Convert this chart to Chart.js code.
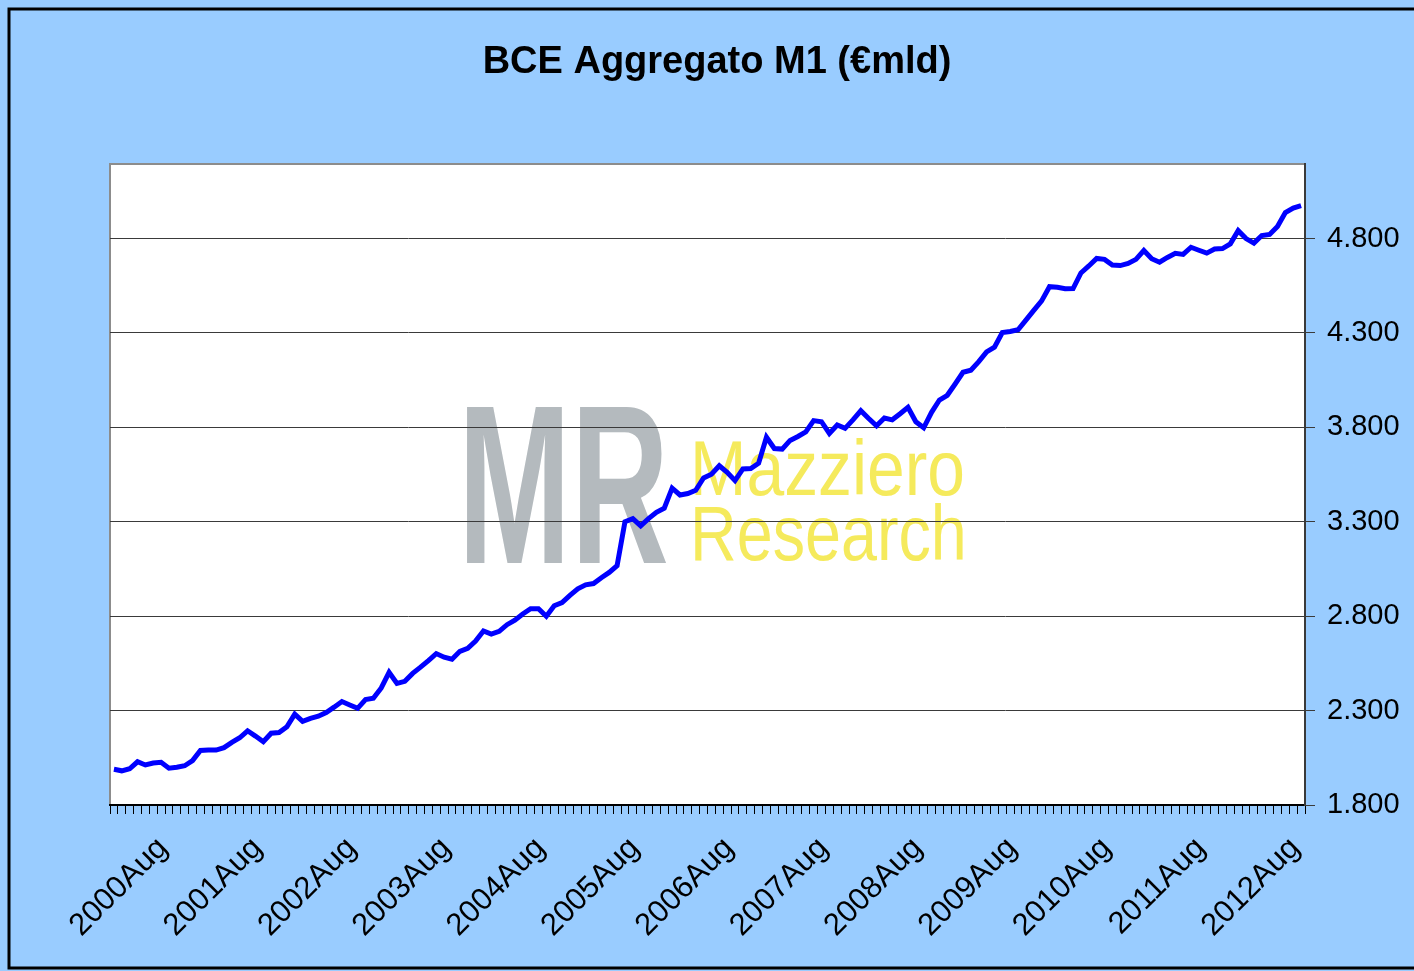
<!DOCTYPE html>
<html lang="it">
<head>
  <meta charset="UTF-8" />
  <title>BCE Aggregato M1 (€mld)</title>
  <script src="https://cdn.jsdelivr.net/npm/chart.js"></script>
  <style>
    html, body { margin: 0; padding: 0; background: #99ccff; }
    #box { width: 1414px; height: 971px; }
  </style>
</head>
<body>
  <div id="box"><canvas id="grafico" width="1414" height="971"></canvas></div>

  <script>
    // serie mensile gen 2000 - ago 2012, miliardi di euro
    const anni = [2000, 2001, 2002, 2003, 2004, 2005, 2006, 2007, 2008, 2009, 2010, 2011, 2012];
    const mesi = ['Jan', 'Feb', 'Mar', 'Apr', 'May', 'Jun', 'Jul', 'Aug', 'Sep', 'Oct', 'Nov', 'Dec'];
    const ultimoMese = 'Aug';
    const yTicks = [1800, 2300, 2800, 3300, 3800, 4300, 4800];
    const m1 = [
      1989, 1981, 1992, 2029, 2012, 2022, 2026, 1995, 2000, 2008, 2035, 2089,
      2091, 2091, 2104, 2132, 2156, 2193, 2165, 2135, 2180, 2184, 2214, 2281,
      2243, 2259, 2270, 2290, 2318, 2348, 2330, 2312, 2358, 2365, 2420, 2503,
      2444, 2455, 2497, 2530, 2565, 2602, 2583, 2572, 2614, 2630, 2668, 2722,
      2705, 2720, 2755, 2779, 2812, 2840, 2840, 2800, 2855, 2872, 2910, 2945,
      2966, 2973, 3004, 3032, 3068, 3300, 3317, 3278, 3317, 3350, 3372, 3478,
      3442, 3450, 3467, 3532, 3552, 3597, 3562, 3518, 3580, 3582, 3610, 3748,
      3688, 3685, 3731, 3752, 3776, 3836, 3830, 3768, 3813, 3795, 3840, 3888,
      3847, 3808, 3850, 3840, 3872, 3906, 3830, 3798, 3880, 3945, 3970, 4030,
      4092, 4103, 4148, 4200, 4225, 4302, 4308, 4317, 4368, 4420, 4470, 4545,
      4542, 4534, 4535, 4618, 4655, 4695, 4690, 4660, 4657, 4668, 4690, 4737,
      4693, 4675, 4700, 4722, 4716, 4754, 4738, 4723, 4745, 4747, 4772, 4842,
      4800, 4776, 4816, 4822, 4864, 4938, 4962, 4975
    ];

    const categorie = [];
    anni.forEach(a => mesi.forEach(m => categorie.push(a + m)));
    categorie.length = categorie.indexOf(anni[anni.length - 1] + ultimoMese) + 1;

    const font = 'Liberation Sans, Arial, sans-serif';

    const sfondo = {
      id: 'sfondo',
      beforeDraw(chart) {
        const ctx = chart.ctx, a = chart.chartArea;
        ctx.save();
        ctx.fillStyle = '#99ccff';
        ctx.fillRect(0, 0, chart.width, chart.height);
        ctx.strokeStyle = '#000';
        ctx.lineWidth = 3;
        ctx.strokeRect(9, 9, chart.width + 20, 959);

        ctx.fillStyle = '#000';
        ctx.font = 'bold 38px ' + font;
        ctx.textAlign = 'center';
        ctx.fillText('BCE Aggregato M1 (€mld)', 717, 73);

        ctx.fillStyle = '#fff';
        ctx.fillRect(a.left, a.top, a.right - a.left, a.bottom - a.top);
        ctx.strokeStyle = '#8c8c8c';
        ctx.lineWidth = 2;
        ctx.strokeRect(a.left, a.top, a.right - a.left, a.bottom - a.top);

        // marchio
        ctx.textAlign = 'left';
        ctx.fillStyle = '#b4babe';
        ctx.save();
        ctx.translate(458, 563);
        ctx.scale(0.6, 1);
        ctx.font = 'bold 226px ' + font;
        ctx.fillText('MR', 0, 0);
        ctx.restore();
        ctx.fillStyle = '#f5ea5c';
        ctx.save();
        ctx.translate(690, 495);
        ctx.scale(0.88, 1);
        ctx.font = '77px ' + font;
        ctx.fillText('Mazziero', 0, 0);
        ctx.restore();
        ctx.save();
        ctx.translate(690, 560);
        ctx.scale(0.84, 1);
        ctx.font = '77px ' + font;
        ctx.fillText('Research', 0, 0);
        ctx.restore();
        ctx.restore();
      }
    };

    new Chart(document.getElementById('grafico').getContext('2d'), {
      type: 'line',
      data: {
        labels: categorie,
        datasets: [{
          label: 'M1',
          data: m1,
          borderColor: '#0000ff',
          borderWidth: 5,
          pointRadius: 0,
          tension: 0,
          fill: false
        }]
      },
      options: {
        responsive: false,
        animation: false,
        layout: { padding: { top: 164, left: 110, right: 0, bottom: 0 } },
        plugins: { legend: { display: false }, tooltip: { enabled: false } },
        scales: {
          x: {
            offset: true,
            grid: { drawOnChartArea: false, drawTicks: true, tickLength: 9, color: '#000', offset: true },
            border: { display: true, color: '#000', width: 2 },
            ticks: {
              autoSkip: false,
              minRotation: 45,
              maxRotation: 45,
              padding: 16,
              labelOffset: -6,
              color: '#000',
              font: { family: font, size: 31 },
              callback: function (v) {
                const l = this.getLabelForValue(v);
                return l.endsWith(ultimoMese) ? l : '';
              }
            },
            afterFit: s => { s.height = 166; }
          },
          y: {
            position: 'right',
            min: 1800,
            max: 5195,
            afterBuildTicks: s => { s.ticks = yTicks.map(v => ({ value: v })); },
            grid: { color: '#3a3a3a', lineWidth: 1, drawTicks: true, tickLength: 10 },
            border: { display: true, color: '#3a3a3a', width: 2 },
            ticks: {
              padding: 12,
              color: '#000',
              font: { family: font, size: 29 },
              callback: v => String(v).replace(/\B(?=(\d{3})+(?!\d))/g, '.')
            },
            afterFit: s => { s.width = 109; }
          }
        }
      },
      plugins: [sfondo]
    });
  </script>
</body>
</html>
